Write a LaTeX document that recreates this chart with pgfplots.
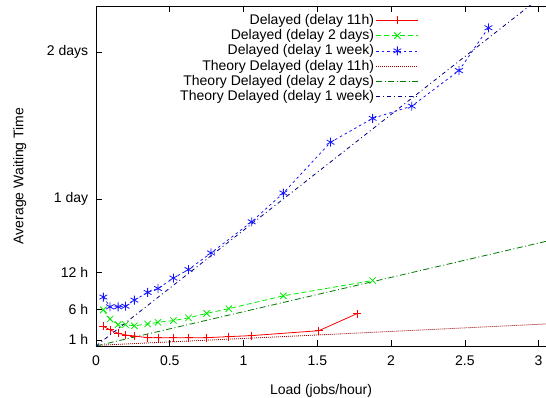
\documentclass[border=0pt]{standalone}
\usepackage{pgfplots}
\pgfplotsset{compat=1.18}
\usepackage{fontspec}
\setmainfont{Liberation Sans}
\definecolor{cRed}{RGB}{255,0,0}
\definecolor{cGreen}{RGB}{0,235,0}
\definecolor{cBlue}{RGB}{20,20,255}
\definecolor{cDRed}{RGB}{150,0,0}
\definecolor{cDGreen}{RGB}{0,120,0}
\definecolor{cNavy}{RGB}{0,0,128}
\begin{document}
\fontsize{14pt}{16pt}\selectfont
\begin{tikzpicture}
\begin{axis}[name=ax,
  scale only axis, width=450pt, height=340pt,
  xmin=0, xmax=3.05, ymin=0, ymax=55.56,
  axis x line=box, axis y line=left, axis line style={-, line width=0.9pt},
  tick align=inside, major tick length=6pt,
  tick style={line width=0.7pt, black},
  xtick={0,0.5,1,1.5,2,2.5,3},
  xticklabels={0,0.5,1,1.5,2,2.5,3},
  ytick={1,6,12,24,48},
  yticklabels={1 h,6 h,12 h,1 day,2 days},
  ytick pos=left,
  xtick pos=both,
  tick label style={font=\fontsize{14pt}{16pt}\selectfont},
  xticklabel style={yshift=-5pt},
  yticklabel style={xshift=-3pt},
  label style={font=\fontsize{14pt}{16pt}\selectfont},
  xlabel={Load (jobs/hour)}, ylabel={Average Waiting Time},
  xlabel style={yshift=-9pt},
  ylabel style={yshift=11pt},
  legend plot pos=right, legend cell align=right,
  legend style={at={(0.72,0.985)}, anchor=north east, draw=none, fill=none,
    font=\fontsize{14pt}{16pt}\selectfont, row sep=-1pt, inner sep=1pt},
  legend image code/.code={\draw[mark repeat=2,mark phase=2,#1] plot coordinates {(0pt,0pt)(21pt,0pt)(42pt,0pt)};},
  every axis plot/.append style={line width=0.8pt},
]
\addplot[cRed, mark=+, mark size=4pt, mark options={solid}] coordinates {
(0.05,3.2)(0.095,2.64)(0.15,2.07)(0.20,1.8)(0.26,1.64)(0.35,1.36)(0.42,1.36)(0.525,1.36)(0.627,1.36)(0.75,1.36)(0.90,1.53)(1.055,1.7)(1.51,2.5)(1.77,5.3)};
\addlegendentry{Delayed (delay 11h)}
\addplot[cGreen, dash pattern=on 5pt off 3pt, mark=x, mark size=4.5pt, mark options={solid}] coordinates {
(0.05,5.9)(0.095,4.4)(0.15,3.5)(0.20,3.5)(0.26,3.3)(0.35,3.6)(0.42,3.87)(0.525,4.15)(0.627,4.6)(0.75,5.33)(0.90,6.1)(1.27,8.2)(1.875,10.7)};
\addlegendentry{Delayed (delay 2 days)}
\addplot[cBlue, dash pattern=on 2.5pt off 3pt, mark=asterisk, mark size=4.5pt, mark options={solid}] coordinates {
(0.05,8.0)(0.095,6.4)(0.15,6.4)(0.20,6.5)(0.26,7.5)(0.35,8.75)(0.42,9.4)(0.525,11.1)(0.627,12.5)(0.78,15.2)(1.055,20.3)(1.27,25.0)(1.59,33.3)(1.875,37.2)(2.14,39.2)(2.46,45.0)(2.66,52.0)};
\addlegendentry{Delayed (delay 1 week)}
\addplot[cDRed, dash pattern=on 1pt off 1pt] coordinates {(0,0.1)(1.5,1.8)(3.05,3.6)};
\addlegendentry{Theory Delayed (delay 11h)}
\addplot[cDGreen, dash pattern=on 6pt off 2.5pt on 1pt off 2.5pt] coordinates {(0,0)(3.05,17.1)};
\addlegendentry{Theory Delayed (delay 2 days)}
\addplot[cNavy, dash pattern=on 4pt off 3pt on 1pt off 3pt] coordinates {(0,0)(3.05,57.7)};
\addlegendentry{Theory Delayed (delay 1 week)}
\end{axis}
\pgfresetboundingbox
\path ([shift={(-96pt,-52pt)}]ax.south west) rectangle ([shift={(0pt,6pt)}]ax.north east);
\end{tikzpicture}
\end{document}
